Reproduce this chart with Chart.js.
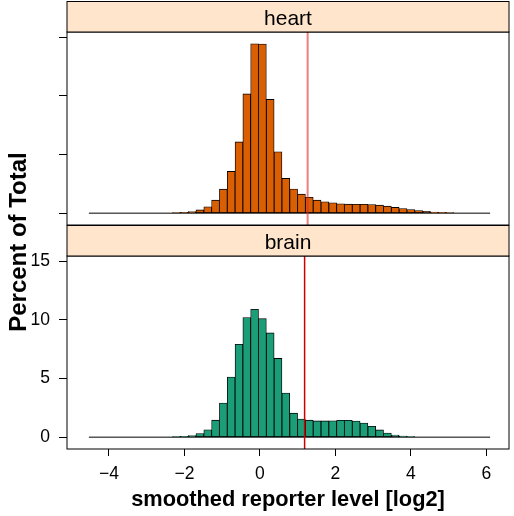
<!DOCTYPE html>
<html>
<head>
<meta charset="utf-8">
<script src="https://cdn.jsdelivr.net/npm/chart.js@4"></script>
<style>
  body { margin: 0; background: #fff; }
  #wrap { position: relative; width: 514px; height: 516px; }
  canvas { position: absolute; left: 0; top: 0; }
</style>
</head>
<body>
<div id="wrap">
  <canvas id="heartChart" width="514" height="516"></canvas>
  <canvas id="brainChart" width="514" height="516"></canvas>
</div>
<script>
// bin midpoints (log2 reporter level)
const binMids = [
  -4.487, -4.280, -4.073, -3.866, -3.659, -3.452, -3.245, -3.038, -2.831, -2.624,
  -2.417, -2.210, -2.003, -1.796, -1.589, -1.382, -1.175, -0.968, -0.761, -0.554,
  -0.347, -0.140, 0.067, 0.274, 0.481, 0.688, 0.895, 1.102, 1.309, 1.516,
  1.723, 1.930, 2.137, 2.344, 2.551, 2.758, 2.965, 3.172, 3.379, 3.586,
  3.793, 4.000, 4.207, 4.414, 4.621, 4.828, 5.035, 5.242, 5.449, 5.656,
  5.863, 6.070
];
// percent of total per bin
const heartPct = [
  0, 0, 0, 0, 0, 0, 0, 0, 0, 0,
  0, 0.02, 0.07, 0.14, 0.28, 0.54, 1.11, 2.05, 3.56, 6.08,
  10.17, 14.44, 14.42, 9.70, 5.24, 2.96, 2.06, 1.62, 1.35, 1.11,
  0.97, 0.88, 0.80, 0.77, 0.76, 0.76, 0.74, 0.68, 0.60, 0.49,
  0.40, 0.31, 0.23, 0.15, 0.09, 0.06, 0.03, 0, 0, 0,
  0, 0
];
const brainPct = [
  0, 0, 0, 0, 0, 0, 0, 0, 0, 0,
  0, 0.02, 0.08, 0.14, 0.31, 0.63, 1.45, 2.91, 5.13, 7.92,
  10.20, 10.91, 10.11, 8.89, 6.72, 3.76, 2.05, 1.54, 1.45, 1.39,
  1.39, 1.40, 1.44, 1.44, 1.38, 1.20, 0.93, 0.62, 0.35, 0.18,
  0.09, 0.03, 0, 0, 0, 0, 0, 0, 0, 0,
  0, 0
];
const dataRange = [-4.53, 6.10];   // zero-height bins show as a line
const heartCut = 1.265;
const brainCut = 1.185;
const xTicks = [-4, -2, 0, 2, 4, 6];
const yTicks = [0, 5, 10, 15];
const xLim = [-5.11, 6.60];
const yLim = [-1.01, 15.45];

const FONT = "'Liberation Sans', Arial, Helvetica, sans-serif";

const panelPlugin = {
  id: 'panel',
  afterDatasetsDraw(chart, args, opts) {
    const ctx = chart.ctx;
    const a = chart.chartArea;
    const x = chart.scales.x.getPixelForValue(opts.cut);
    ctx.save();
    ctx.strokeStyle = opts.cutColor;
    ctx.lineWidth = opts.cutWidth;
    ctx.beginPath();
    ctx.moveTo(x, a.top);
    ctx.lineTo(x, a.bottom);
    ctx.stroke();
    // panel box
    ctx.strokeStyle = '#000';
    ctx.lineWidth = 1;
    ctx.strokeRect(a.left, a.top, a.right - a.left, a.bottom - a.top);
    // strip
    const h = 30.5;
    ctx.fillStyle = '#ffe5cc';
    ctx.fillRect(a.left, a.top - h, a.right - a.left, h);
    ctx.strokeRect(a.left, a.top - h, a.right - a.left, h);
    ctx.fillStyle = '#000';
    ctx.font = '21px ' + FONT;
    ctx.textAlign = 'center';
    ctx.textBaseline = 'alphabetic';
    ctx.fillText(opts.label, (a.left + a.right) / 2, a.top - h + 23.5);
    if (opts.yTitle) {
      ctx.translate(26, opts.yTitleY);
      ctx.rotate(-Math.PI / 2);
      ctx.font = 'bold 24px ' + FONT;
      ctx.fillText(opts.yTitle, 0, 0);
    }
    ctx.restore();
  }
};

function makeChart(id, values, color, strip, cut, cutColor, cutWidth, bottomPanel) {
  return new Chart(document.getElementById(id), {
    type: 'bar',
    data: {
      datasets: [
        {
          type: 'line',
          data: dataRange.map(v => ({ x: v, y: 0 })),
          borderColor: '#000',
          borderWidth: 1,
          pointRadius: 0
        },
        {
          data: binMids.map((m, i) => ({ x: m, y: values[i] })),
          backgroundColor: color,
          borderColor: '#000',
          borderWidth: 0.85,
          borderSkipped: false,
          barPercentage: 1,
          categoryPercentage: 1
        }
      ]
    },
    options: {
      responsive: false,
      animation: false,
      events: [],
      layout: { padding: bottomPanel ? { top: 256, right: 5, bottom: 0, left: 0 }
                                     : { top: 32, right: 5, bottom: 291, left: 0 } },
      plugins: {
        legend: { display: false },
        tooltip: { enabled: false },
        panel: {
          cut: cut, cutColor: cutColor, cutWidth: cutWidth, label: strip,
          yTitle: bottomPanel ? 'Percent of Total' : null, yTitleY: 242
        }
      },
      scales: {
        x: {
          type: 'linear',
          min: xLim[0], max: xLim[1],
          offset: false,
          display: bottomPanel,
          afterFit(s) { s.height = bottomPanel ? 67 : 0; },
          afterBuildTicks(s) { s.ticks = xTicks.map(v => ({ value: v })); },
          ticks: {
            color: '#000', font: { family: FONT, size: 17.5 }, padding: 8, maxRotation: 0,
            callback: v => String(v).replace('-', '\u2212')
          },
          grid: { drawOnChartArea: false, offset: false, tickLength: 7, color: '#000' },
          border: { display: false },
          title: {
            display: true, text: 'smoothed reporter level [log2]', color: '#000',
            font: { family: FONT, size: 21.8, weight: 'bold' }, padding: { top: 0, bottom: 3 }
          }
        },
        y: {
          min: yLim[0], max: yLim[1],
          afterFit(s) { s.width = 67; },
          afterBuildTicks(s) { s.ticks = yTicks.map(v => ({ value: v })); },
          ticks: {
            color: '#000', font: { family: FONT, size: 17.5 }, padding: 9,
            callback: v => bottomPanel ? v : ''
          },
          grid: { drawOnChartArea: false, tickLength: 8, color: '#000' },
          border: { display: false }
        }
      }
    },
    plugins: [panelPlugin]
  });
}

makeChart('heartChart', heartPct, '#D95F02', 'heart', heartCut, 'rgba(225,40,40,0.6)', 2, false);
makeChart('brainChart', brainPct, '#1B9E77', 'brain', brainCut, '#d00000', 1.5, true);
</script>
</body>
</html>
